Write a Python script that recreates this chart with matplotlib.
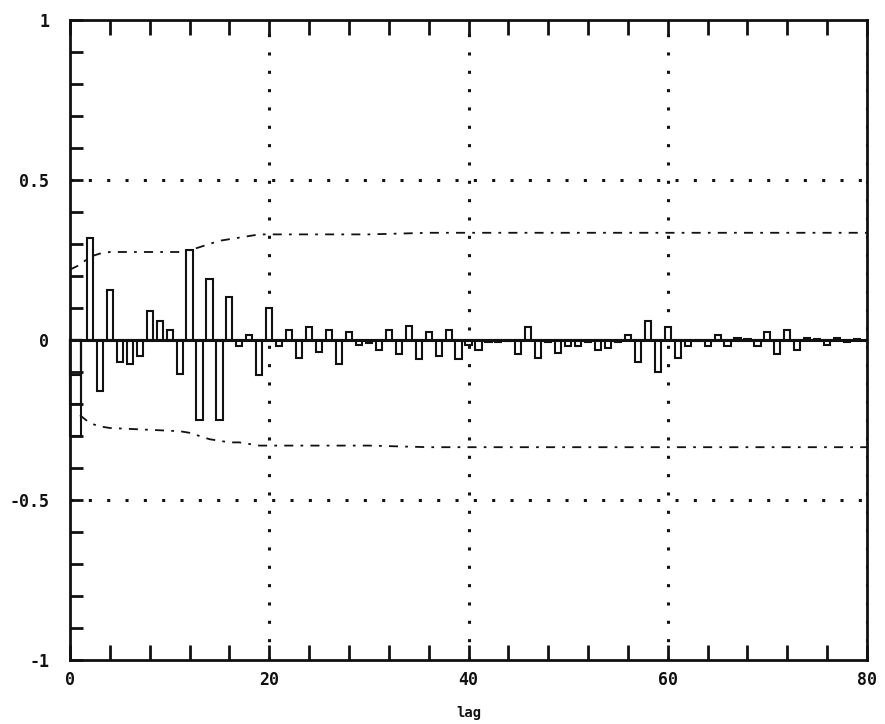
import numpy as np
import matplotlib
matplotlib.use('Agg')
import matplotlib.pyplot as plt
from matplotlib.ticker import MultipleLocator

# --- Data ---
lags = list(range(1, 81))
acf = [
    -0.30, 0.32, -0.16, 0.155, -0.07, -0.075, -0.05, 0.09, 0.06, 0.03,      # 1-10
    -0.105, 0.28, -0.25, 0.19, -0.25, 0.135, -0.02, 0.015, -0.11, 0.10,     # 11-20
    -0.02, 0.03, -0.055, 0.04, -0.037, 0.03, -0.075, 0.025, -0.015, -0.008, # 21-30
    -0.03, 0.03, -0.045, 0.045, -0.06, 0.025, -0.05, 0.03, -0.06, -0.015,   # 31-40
    -0.03, -0.005, -0.005, -0.004, -0.045, 0.04, -0.055, -0.006, -0.04, -0.02, # 41-50
    -0.02, -0.005, -0.03, -0.025, -0.006, 0.015, -0.07, 0.06, -0.10, 0.04,  # 51-60
    -0.055, -0.02, -0.004, -0.02, 0.015, -0.02, 0.005, 0.002, -0.02, 0.025, # 61-70
    -0.045, 0.03, -0.03, 0.005, 0.002, -0.015, 0.005, -0.005, 0.002, 0.0,   # 71-80
]
# the lag-1 bar is drawn as stacked boxes in the scan
lag1_segments = [-0.11, -0.20, -0.30]

# approximate confidence limits (dash-dot curves)
upper_lags = [0, 1, 2, 3, 4, 11, 12, 13, 14, 15, 16, 17, 18, 19, 30, 36, 80]
upper_vals = [0.22, 0.235, 0.26, 0.27, 0.275, 0.275, 0.28, 0.29, 0.30, 0.31,
              0.315, 0.32, 0.325, 0.33, 0.33, 0.335, 0.335]
lower_lags = [1, 2, 3, 4, 11, 12, 13, 14, 15, 16, 17, 18, 19, 30, 36, 80]
lower_vals = [-0.235, -0.26, -0.27, -0.275, -0.285, -0.29, -0.30, -0.31, -0.315,
              -0.32, -0.32, -0.325, -0.33, -0.33, -0.335, -0.335]

xticks = [0, 20, 40, 60, 80]
yticks = [-1, -0.5, 0, 0.5, 1]
ytick_labels = ['-1', '-0.5', '0', '0.5', '1']

ink = '#111111'
fig = plt.figure(figsize=(8.85, 7.24), dpi=100)
ax = fig.add_axes([0.0791, 0.0884, 0.9006, 0.884])

# bars (hollow)
ax.bar(lags[1:], acf[1:], width=0.62, facecolor='white', edgecolor=ink, linewidth=1.5, zorder=3)
for seg in lag1_segments:
    ax.bar(lags[0] - 0.45, seg, width=1.05, facecolor='none', edgecolor=ink,
           linewidth=1.5, zorder=3, clip_on=False)

# confidence limits
dd = (0, (5, 4, 1.5, 4))
ax.plot(upper_lags, upper_vals, color=ink, linewidth=1.3, linestyle=dd, zorder=2)
ax.plot(lower_lags, lower_vals, color=ink, linewidth=1.3, linestyle=dd, zorder=2)

# zero line and dotted grid
ax.axhline(0, color=ink, linewidth=2.2, zorder=4)
dots = (0, (1, 5))
for gx in [20, 40, 60, 80]:
    ax.axvline(gx, color=ink, linewidth=2.2, linestyle=dots, zorder=1)
for gy in [0.5, -0.5]:
    ax.axhline(gy, color=ink, linewidth=2.2, linestyle=dots, zorder=1)

ax.set_xlim(0, 80)
ax.set_ylim(-1, 1)

for side in ['left', 'bottom', 'top', 'right']:
    ax.spines[side].set_linewidth(2.0)
    ax.spines[side].set_color(ink)

ax.set_xticks(xticks)
ax.set_yticks(yticks)
ax.set_yticklabels(ytick_labels)
ax.xaxis.set_minor_locator(MultipleLocator(4))
ax.yaxis.set_minor_locator(MultipleLocator(0.1))
ax.tick_params(axis='x', which='both', direction='in', top=True, bottom=True,
               length=11, width=2.0, color=ink)
ax.tick_params(axis='y', which='both', direction='in', left=True, right=False,
               length=9, width=2.0, color=ink)
ax.tick_params(axis='x', which='major', pad=8)
ax.tick_params(axis='y', which='major', pad=15)

for lab in ax.get_xticklabels() + ax.get_yticklabels():
    lab.set_fontfamily('DejaVu Sans Mono')
    lab.set_fontweight('bold')
    lab.set_fontsize(12)
    lab.set_color(ink)

ax.set_xlabel('lag', fontsize=10, fontfamily='DejaVu Sans Mono', fontweight='bold',
              color=ink, labelpad=12)

fig.savefig('out.png', dpi=100, facecolor='white')
